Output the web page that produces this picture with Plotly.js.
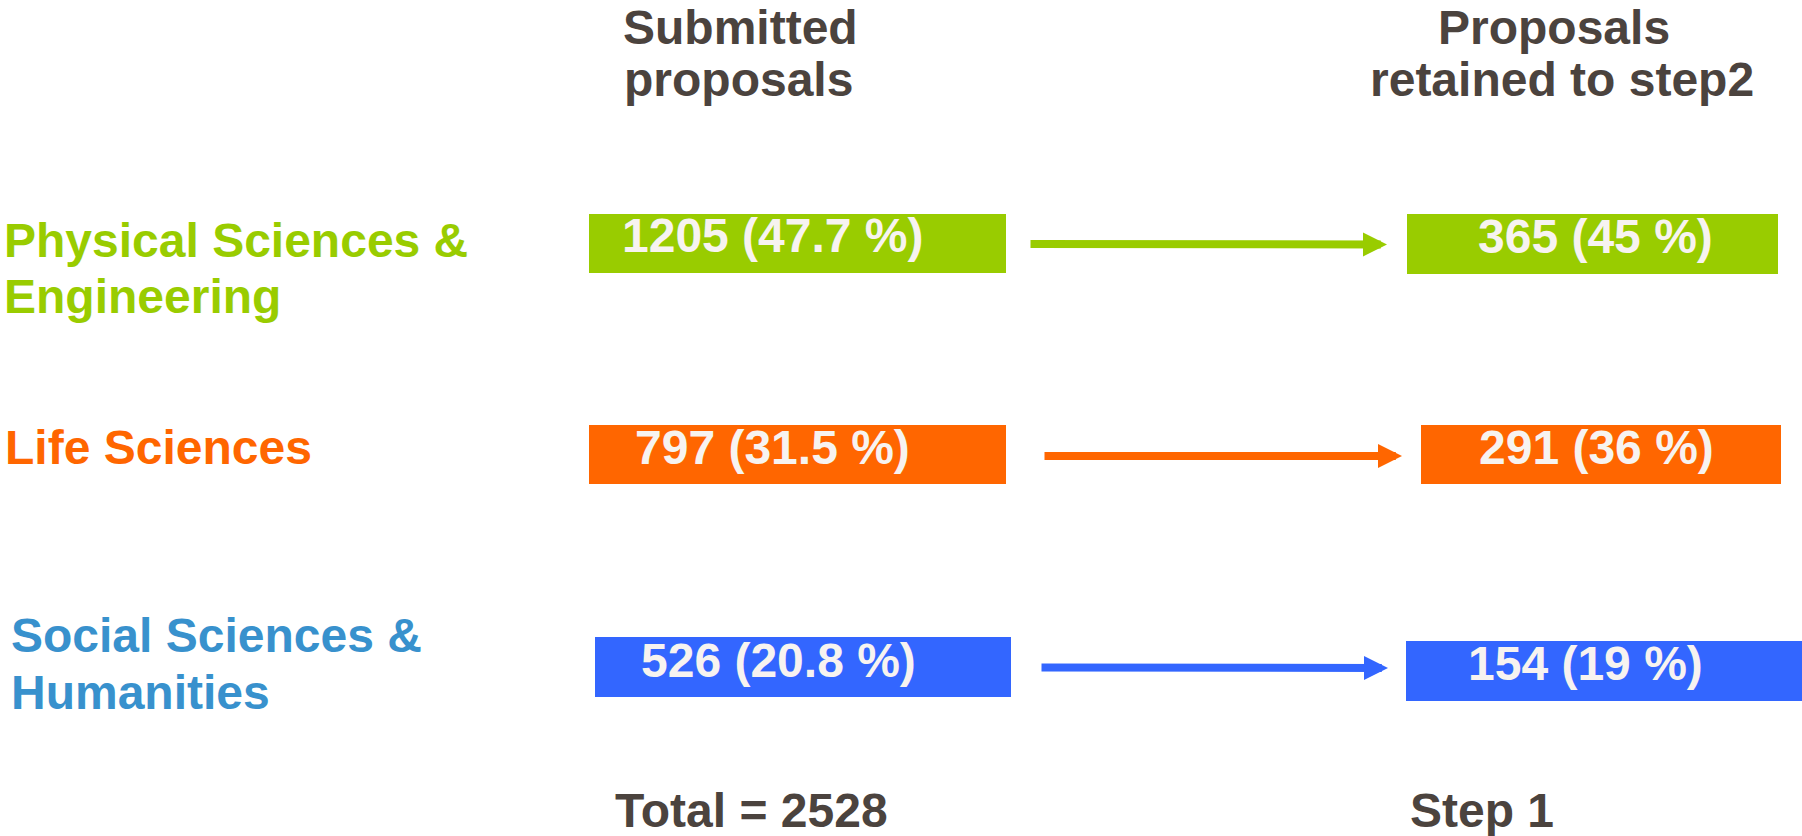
<!DOCTYPE html>
<html>
<head>
<meta charset="utf-8">
<script src="https://cdn.plot.ly/plotly-3.0.1.min.js"></script>
<style>
html,body{margin:0;padding:0;background:#ffffff;overflow:hidden}
#chart{width:1802px;height:836px}
</style>
</head>
<body>
<div id="chart"></div>
<script>
// ---------------- DATA ----------------
const domainLine1 = ['Physical Sciences &', 'Life Sciences', 'Social Sciences &'];
const domainLine2 = ['Engineering', '', 'Humanities'];
const submittedCounts = [1205, 797, 526];
const submittedPct = ['47.7', '31.5', '20.8'];
const retainedCounts = [365, 291, 154];
const retainedPct = ['45', '36', '19'];
const totalSubmitted = 2528;
const headerLeft = ['Submitted', 'proposals'];
const headerRight = ['Proposals', 'retained to step2'];
const footerLeft = 'Total = ' + totalSubmitted;
const footerRight = 'Step 1';

// ---------------- STYLE / GEOMETRY (diagram layout, pixels) ----------------
const FONT = 'Arial, "Liberation Sans", sans-serif';
const FS = 48;
const HEAD_COLOR = '#4B433E';
const BOX_TEXT = '#F7F3F0';
const rowColors = ['#99CC00', '#FF6600', '#3366FF'];
const labelColors = ['#99CC00', '#FF6600', '#3891CD'];

const leftBox  = {base: [589, 589, 595],   len: [417, 417, 416], y: [243.5, 454.5, 667], h: [59, 59, 60]};
const rightBox = {base: [1407, 1421, 1406], len: [371, 360, 396], y: [244, 454.5, 671],   h: [60, 59, 60]};
const leftTextX  = [773, 772, 778];
const leftTextY  = [235, 447, 660];
const rightTextX = [1595, 1596, 1585];
const rightTextY = [236, 447, 663];
const arrows = [
  {x0: 1029, y0: 244, x1: 1387, y1: 244.5},
  {x0: 1043, y0: 456, x1: 1402, y1: 456},
  {x0: 1040, y0: 667.5, x1: 1388, y1: 668}
];
const labelX1 = [2, 3, 9];
const labelY1 = [240, 447, 635];
const labelX2 = [2, 3, 9];
const labelY2 = [296, 0, 692];

// ---------------- TRACES ----------------
const traces = [
  {
    type: 'bar', orientation: 'h', name: 'Submitted proposals',
    y: leftBox.y, x: leftBox.len, base: leftBox.base, width: leftBox.h,
    marker: {color: rowColors, line: {width: 0}},
    hoverinfo: 'skip', showlegend: false
  },
  {
    type: 'bar', orientation: 'h', name: 'Proposals retained to step2',
    y: rightBox.y, x: rightBox.len, base: rightBox.base, width: rightBox.h,
    marker: {color: rowColors, line: {width: 0}},
    hoverinfo: 'skip', showlegend: false
  }
];

// ---------------- ANNOTATIONS ----------------
const ann = [];
function txt(text, x, y, color, anchor, yanchor) {
  ann.push({
    text: text, x: x, y: y, xref: 'x', yref: 'y',
    xanchor: anchor || 'center', yanchor: yanchor || 'middle', showarrow: false,
    borderpad: yanchor ? 0 : 1,
    font: {family: FONT, size: FS, color: color, weight: 'bold'}
  });
}
for (let i = 0; i < 3; i++) {
  txt(submittedCounts[i] + ' (' + submittedPct[i] + ' %)', leftTextX[i], leftTextY[i], BOX_TEXT);
  txt(retainedCounts[i] + ' (' + retainedPct[i] + ' %)', rightTextX[i], rightTextY[i], BOX_TEXT);
  txt(domainLine1[i], labelX1[i], labelY1[i], labelColors[i], 'left');
  if (domainLine2[i]) txt(domainLine2[i], labelX2[i], labelY2[i], labelColors[i], 'left');
  const a = arrows[i];
  ann.push({
    text: '', x: a.x1, y: a.y1, ax: a.x0, ay: a.y0,
    xref: 'x', yref: 'y', axref: 'x', ayref: 'y',
    showarrow: true, arrowhead: 2, arrowsize: 0.6, arrowwidth: 8,
    arrowcolor: rowColors[i], standoff: 0, startstandoff: 0
  });
}
txt(headerLeft[0], 622, 0, HEAD_COLOR, 'left', 'top');
txt(headerLeft[1], 622, 79, HEAD_COLOR, 'left');
txt(headerRight[0], 1554, 0, HEAD_COLOR, 'center', 'top');
txt(headerRight[1], 1562, 79, HEAD_COLOR);
txt(footerLeft, 613, 810, HEAD_COLOR, 'left');
txt(footerRight, 1408, 810, HEAD_COLOR, 'left');

const layout = {
  width: 1802, height: 836,
  margin: {l: 0, r: 0, t: 0, b: 0, pad: 0},
  paper_bgcolor: '#ffffff', plot_bgcolor: '#ffffff',
  barmode: 'overlay',
  showlegend: false,
  xaxis: {range: [0, 1802], visible: false, fixedrange: true},
  yaxis: {range: [836, 0], visible: false, fixedrange: true},
  annotations: ann,
  font: {family: FONT}
};

Plotly.newPlot('chart', traces, layout, {staticPlot: true, displayModeBar: false});
</script>
</body>
</html>
